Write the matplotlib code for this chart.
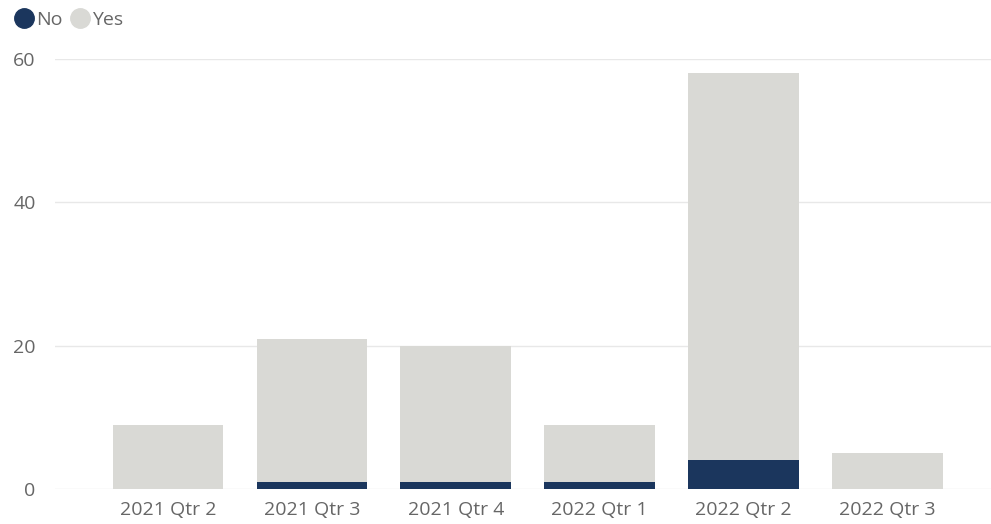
import matplotlib
matplotlib.use("Agg")
import matplotlib.pyplot as plt
from matplotlib.lines import Line2D

categories = ["2021 Qtr 2", "2021 Qtr 3", "2021 Qtr 4", "2022 Qtr 1", "2022 Qtr 2", "2022 Qtr 3"]
no_values = [0, 1, 1, 1, 4, 0]
yes_values = [9, 20, 19, 8, 54, 5]
y_ticks = [0, 20, 40, 60]

NAVY = "#1B365D"
GRAY = "#D9D9D5"
TXT = "#666666"

plt.rcParams['font.family'] = ['Open Sans', 'DejaVu Sans']

fig = plt.figure(figsize=(9.91, 5.24), dpi=100)
ax = fig.add_axes([55/991, 35/524, 936/991, 430/524])

x = list(range(len(categories)))
ax.bar(x, no_values, width=0.77, color=NAVY, zorder=3)
ax.bar(x, yes_values, bottom=no_values, width=0.77, color=GRAY, zorder=3)

ax.set_xlim(-0.786, 5.72)
ax.set_ylim(0, 60)
ax.set_yticks(y_ticks)
ax.yaxis.grid(True, color="#E8E8E8", linewidth=1, zorder=0)
ax.set_xticks(x)
ax.set_xticklabels(categories)
ax.tick_params(axis='both', length=0, colors=TXT, labelsize=14)
ax.tick_params(axis='y', pad=14)
ax.tick_params(axis='x', pad=9)
for s in ax.spines.values():
    s.set_visible(False)

handles = [Line2D([], [], marker='o', linestyle='', markersize=14, color=NAVY, label="No"),
           Line2D([], [], marker='o', linestyle='', markersize=14, color=GRAY, label="Yes")]
fig.legend(handles=handles, loc='upper left', bbox_to_anchor=(-0.005, 1.012), ncol=2,
           frameon=False, fontsize=14, handletextpad=0.0, columnspacing=0.3,
           labelcolor=TXT, handlelength=1.2)

fig.savefig("out.png", dpi=100)
